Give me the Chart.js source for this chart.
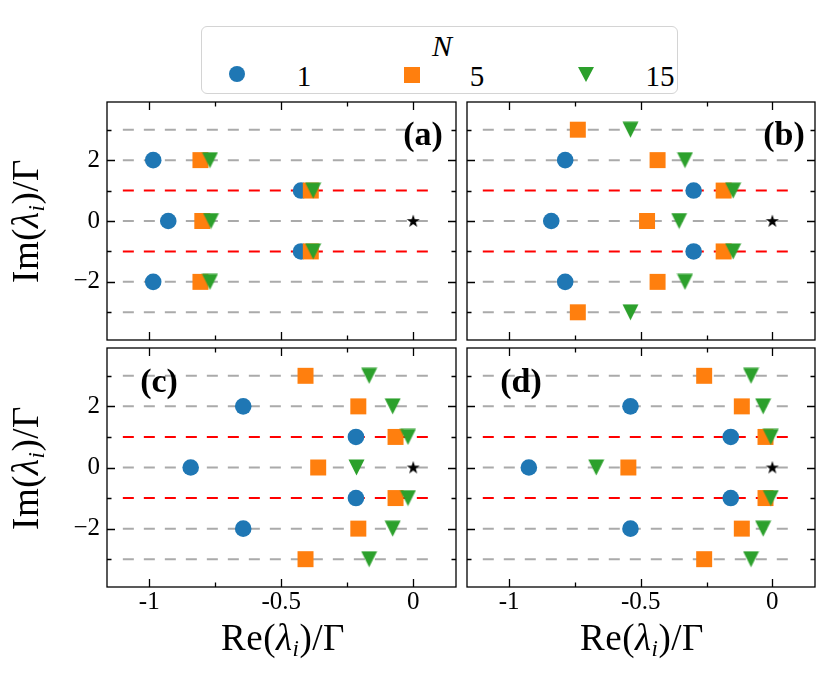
<!DOCTYPE html>
<html>
<head>
<meta charset="utf-8">
<script src="https://cdn.jsdelivr.net/npm/chart.js@4.4.1/dist/chart.umd.min.js"></script>
<style>
  body { margin: 0; width: 830px; height: 675px; background: #fff; position: relative; overflow: hidden;
         font-family: "Liberation Serif", "DejaVu Serif", serif; color: #000; }
  .box { position: absolute; }
  .t { position: absolute; white-space: nowrap; transform: translate(-50%, -50%); line-height: 1; }
  .ylab { font-size: 37px; letter-spacing: 0.5px; transform: translate(-50%, -50%) rotate(-90deg); }
  .xlab { font-size: 37px; letter-spacing: 0.5px; }
  .pl { font-size: 34px; font-weight: bold; }
  sub { font-size: 0.62em; vertical-align: -0.28em; }
  #legend { position: absolute; left: 201px; top: 26px; width: 475px; height: 66px;
            border: 1.5px solid #d4d4d4; border-radius: 6px; }
  .mk { position: absolute; }
</style>
</head>
<body>
<div id="legend"></div>
<div class="t" style="left:442px;top:46px;font-size:30px;font-style:italic">N</div>
<div class="mk" style="left:229px;top:66px;width:16px;height:16px;border-radius:50%;background:#1f77b4"></div>
<div class="t" style="left:304px;top:76px;font-size:29px">1</div>
<div class="mk" style="left:404px;top:67px;width:16px;height:16px;background:#ff7f0e"></div>
<div class="t" style="left:477px;top:76px;font-size:29px">5</div>
<div class="mk" style="left:578px;top:67px;width:0;height:0;border-left:8px solid transparent;border-right:8px solid transparent;border-top:15px solid #2ca02c"></div>
<div class="t" style="left:660px;top:76px;font-size:29px">15</div>

<div class="box" style="left:47px;top:97px"><canvas id="ca" width="414" height="248"></canvas></div>
<div class="box" style="left:462px;top:97px"><canvas id="cb" width="358" height="248"></canvas></div>
<div class="box" style="left:47px;top:343px"><canvas id="cc" width="414" height="289"></canvas></div>
<div class="box" style="left:462px;top:343px"><canvas id="cd" width="358" height="289"></canvas></div>

<div class="t pl" style="left:423px;top:134px">(a)</div>
<div class="t pl" style="left:784px;top:134px">(b)</div>
<div class="t pl" style="left:159px;top:381px">(c)</div>
<div class="t pl" style="left:521px;top:381px">(d)</div>

<div class="t ylab" style="left:28px;top:221px">Im(<i>λ<sub>i</sub></i>)/Γ</div>
<div class="t ylab" style="left:28px;top:468px">Im(<i>λ<sub>i</sub></i>)/Γ</div>
<div class="t xlab" style="left:283px;top:640px">Re(<i>λ<sub>i</sub></i>)/Γ</div>
<div class="t xlab" style="left:642px;top:640px">Re(<i>λ<sub>i</sub></i>)/Γ</div>

<script>
// Im(lambda_i) levels
const imN1 = [2, 1, 0, -1, -2];
const imN = [3, 2, 1, 0, -1, -2, -3];

// Re(lambda_i), N = 1, 5, 15
const reA1 = [-0.985, -0.425, -0.928, -0.425, -0.985];
const reA5 = [-0.806, -0.388, -0.799, -0.388, -0.806];
const reA15 = [-0.770, -0.379, -0.766, -0.379, -0.770];

const reB1 = [-0.787, -0.299, -0.840, -0.299, -0.787];
const reB5 = [-0.739, -0.436, -0.185, -0.476, -0.185, -0.436, -0.739];
const reB15 = [-0.539, -0.332, -0.149, -0.354, -0.149, -0.332, -0.539];

const reC1 = [-0.644, -0.217, -0.843, -0.217, -0.644];
const reC5 = [-0.408, -0.208, -0.067, -0.360, -0.067, -0.208, -0.408];
const reC15 = [-0.167, -0.078, -0.020, -0.215, -0.020, -0.078, -0.167];

const reD1 = [-0.539, -0.158, -0.925, -0.158, -0.539];
const reD5 = [-0.259, -0.116, -0.026, -0.547, -0.026, -0.116, -0.259];
const reD15 = [-0.081, -0.035, -0.006, -0.669, -0.006, -0.035, -0.081];

// reference point and guide lines
const starRe = [0];
const starIm = [0];
const grayLevels = [3, 2, 0, -2, -3];
const redLevels = [1, -1];
const guideRe = [-1.1, 0.09];

// axis ticks
const xMajor = [-1, -0.5, 0];
const xMinor = [-0.75, -0.25];
const yMajor = [-2, 0, 2];
const yMinor = [-3, -1, 1, 3];

const blue = "#1f77b4", orange = "#ff7f0e", green = "#2ca02c";
const serif = "'Liberation Serif', 'DejaVu Serif', serif";

function marker(w, h, draw) {
  const c = document.createElement("canvas");
  c.width = w;
  c.height = h;
  draw(c.getContext("2d"));
  return c;
}
const triDown = marker(17, 17, (g) => {
  g.fillStyle = green;
  g.beginPath();
  g.moveTo(0.5, 0.5);
  g.lineTo(16.5, 0.5);
  g.lineTo(8.5, 16.5);
  g.closePath();
  g.fill();
});
const star = marker(14, 14, (g) => {
  g.fillStyle = "#000";
  g.beginPath();
  for (let k = 0; k < 10; k++) {
    const r = k % 2 ? 2.7 : 6.8;
    const a = -Math.PI / 2 + (k * Math.PI) / 5;
    g.lineTo(7 + r * Math.cos(a), 7.4 + r * Math.sin(a));
  }
  g.closePath();
  g.fill();
});

const pts = (re, im) => re.map((v, i) => ({ x: v, y: im[i] }));

const frameTicks = {
  id: "frameTicks",
  afterDatasetsDraw(chart) {
    const { ctx, chartArea: a, scales: { x, y } } = chart;
    ctx.save();
    ctx.strokeStyle = "#000";
    ctx.lineWidth = 1.3;
    ctx.beginPath();
    const xt = (vals, len) => vals.forEach((v) => {
      const p = Math.round(x.getPixelForValue(v)) + 0.5;
      ctx.moveTo(p, a.bottom); ctx.lineTo(p, a.bottom - len);
      ctx.moveTo(p, a.top); ctx.lineTo(p, a.top + len);
    });
    const yt = (vals, len) => vals.forEach((v) => {
      const p = Math.round(y.getPixelForValue(v)) + 0.5;
      ctx.moveTo(a.left, p); ctx.lineTo(a.left + len, p);
      ctx.moveTo(a.right, p); ctx.lineTo(a.right - len, p);
    });
    xt(xMajor, 8); xt(xMinor, 4.5);
    yt(yMajor, 8); yt(yMinor, 4.5);
    ctx.stroke();
    ctx.strokeRect(a.left, a.top, a.right - a.left, a.bottom - a.top);
    ctx.restore();
  },
};

function guide(level, color) {
  return {
    data: pts(guideRe, [level, level]),
    showLine: true,
    borderColor: color,
    borderWidth: 2,
    borderDash: [11, 10],
    pointRadius: 0,
    order: 10,
  };
}

function noPad(s) {
  s.paddingTop = 0; s.paddingBottom = 0; s.paddingLeft = 0; s.paddingRight = 0;
}

function panel(id, re1, re5, im5, re15, left, bottom) {
  new Chart(document.getElementById(id), {
    type: "scatter",
    data: {
      datasets: [
        ...grayLevels.map((l) => guide(l, "#aaaaaa")),
        ...redLevels.map((l) => guide(l, "#ff0000")),
        { data: pts(re1, imN1), pointStyle: "circle", pointRadius: 8.3, backgroundColor: blue, borderWidth: 0, order: 3 },
        { data: pts(re5, im5), pointStyle: "rect", pointRadius: 11.3, backgroundColor: orange, borderWidth: 0, order: 2 },
        { data: pts(re15, im5), pointStyle: triDown, order: 1 },
        { data: pts(starRe, starIm), pointStyle: star, order: 0 },
      ],
    },
    options: {
      responsive: false,
      animation: false,
      events: [],
      layout: { autoPadding: false, padding: { top: 5, right: 5, left: left ? 0 : 5, bottom: bottom ? 0 : 5 } },
      plugins: { legend: { display: false }, tooltip: { enabled: false } },
      scales: {
        x: {
          type: "linear",
          min: -1.16,
          max: 0.162,
          display: bottom,
          grid: { display: false, drawTicks: false },
          border: { display: false },
          afterBuildTicks: (s) => { s.ticks = xMajor.map((v) => ({ value: v })); },
          afterFit: (s) => { s.height = bottom ? 45 : 0; noPad(s); },
          ticks: { color: "#000", padding: 0, maxRotation: 0, font: { family: serif, size: 25 }, callback: (v) => String(v) },
        },
        y: {
          type: "linear",
          min: -3.91,
          max: 3.91,
          display: left,
          grid: { display: false, drawTicks: false },
          border: { display: false },
          afterBuildTicks: (s) => { s.ticks = yMajor.map((v) => ({ value: v })); },
          afterFit: (s) => { s.width = left ? 60 : 0; noPad(s); },
          ticks: { color: "#000", padding: 7, font: { family: serif, size: 25 }, callback: (v) => (v < 0 ? "\u2212" + Math.abs(v) : String(v)) },
        },
      },
    },
    plugins: [frameTicks],
  });
}

panel("ca", reA1, reA5, imN1, reA15, true, false);
panel("cb", reB1, reB5, imN, reB15, false, false);
panel("cc", reC1, reC5, imN, reC15, true, true);
panel("cd", reD1, reD5, imN, reD15, false, true);
</script>
</body>
</html>
